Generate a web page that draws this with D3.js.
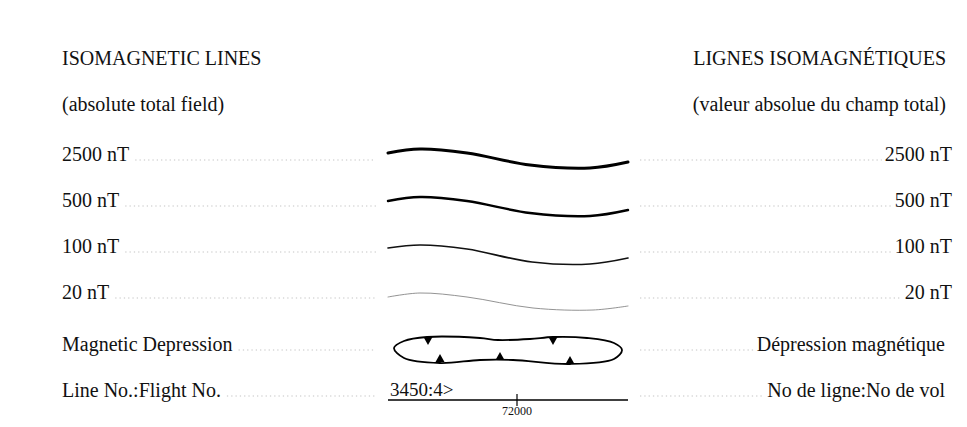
<!DOCTYPE html>
<html>
<head>
<meta charset="utf-8">
<script src="https://cdn.jsdelivr.net/npm/d3@7"></script>
<style>
  body { margin: 0; background: #fff; }
  text { font-family: "Liberation Serif", "Times New Roman", serif; fill: #111; }
</style>
</head>
<body>
<div id="chart"></div>
<script>
// Legend rows (left label, right label)
const leftLabels = ["2500 nT", "500 nT", "100 nT", "20 nT", "Magnetic Depression", "Line No.:Flight No."];
const rightLabels = ["2500 nT", "500 nT", "100 nT", "20 nT", "Dépression magnétique", "No de ligne:No de vol"];
const rightEdges = [952, 952, 952, 952, 945, 945];
const rowBaselines = [161, 207, 253, 299, 351, 397];

// Isoline samples: [x along symbol, offset from baseline]
const line2500 = [[0, -8], [32, -12], [79, -8], [142, 4], [202, 7], [240, 1]];
const line500 = [[0, -6], [32, -10], [79, -6], [142, 6], [202, 9], [240, 3]];
const line100 = [[0, -5], [32, -8], [79, -4], [144, 9], [202, 11], [240, 5]];
const line20 = [[0, -2], [32, -6], [79, -2], [145, 9], [205, 11], [240, 7]];
const isolines = [line2500, line500, line100, line20];
const isoWidths = [3, 2.4, 1.7, 0.8];
const isoColors = ["#000", "#000", "#111", "#777"];

// Magnetic depression closed contour and hachure marks
const depression = [[6, -3], [16, -10], [39, -14], [92, -13], [110, -11], [142, -12], [165, -14], [199, -13],
                    [226, -8], [234, -1], [226, 8], [182, 13], [125, 9], [92, 9], [52, 12], [16, 7]];
const hachures = [[40, -13, "down"], [165, -13, "down"], [52, 10, "up"], [112, 8, "up"], [182, 12, "up"]];

const flightLabel = "3450:4>";
const fiducial = [129, "72000"];

const width = 967, height = 427;
const svg = d3.select("#chart").append("svg")
    .attr("width", width)
    .attr("height", height);

const x = d3.scaleLinear().domain([0, 240]).range([388, 628]);
const rowY = (i, off) => rowBaselines[i] + off;
const fs = 20;

// Headings
svg.append("text").attr("x", 62).attr("y", 65).attr("font-size", fs).text("ISOMAGNETIC LINES");
svg.append("text").attr("x", 62).attr("y", 111).attr("font-size", fs).text("(absolute total field)");
svg.append("text").attr("x", 946).attr("y", 65).attr("font-size", fs).attr("text-anchor", "end").text("LIGNES ISOMAGNÉTIQUES");
svg.append("text").attr("x", 946).attr("y", 111).attr("font-size", fs).attr("text-anchor", "end").text("(valeur absolue du champ total)");

// Row labels with dotted leaders
leftLabels.forEach((lab, i) => {
    const t = svg.append("text").attr("x", 62).attr("y", rowBaselines[i]).attr("font-size", fs).text(lab);
    const w = t.node().getComputedTextLength();
    svg.append("line")
        .attr("x1", 62 + w + 6).attr("x2", 376)
        .attr("y1", rowBaselines[i] - 1).attr("y2", rowBaselines[i] - 1)
        .attr("stroke", "#c4c4c4").attr("stroke-width", 1.2)
        .attr("stroke-dasharray", "1.3,3");
});
rightLabels.forEach((lab, i) => {
    const t = svg.append("text").attr("x", rightEdges[i]).attr("y", rowBaselines[i]).attr("font-size", fs)
        .attr("text-anchor", "end").text(lab);
    const w = t.node().getComputedTextLength();
    svg.append("line")
        .attr("x1", 640).attr("x2", rightEdges[i] - w - 3)
        .attr("y1", rowBaselines[i] - 1).attr("y2", rowBaselines[i] - 1)
        .attr("stroke", "#c4c4c4").attr("stroke-width", 1.2)
        .attr("stroke-dasharray", "1.3,3");
});

// Isolines
isolines.forEach((pts, i) => {
    const gen = d3.line().x(d => x(d[0])).y(d => rowY(i, d[1])).curve(d3.curveCatmullRom);
    svg.append("path").attr("d", gen(pts))
        .attr("fill", "none").attr("stroke", isoColors[i])
        .attr("stroke-width", isoWidths[i]).attr("stroke-linecap", "round");
});

// Depression contour
const loop = d3.line().x(d => x(d[0])).y(d => rowY(4, d[1])).curve(d3.curveCatmullRomClosed);
svg.append("path").attr("d", loop(depression))
    .attr("fill", "none").attr("stroke", "#000").attr("stroke-width", 1.8);
svg.selectAll(".hach").data(hachures).enter().append("path")
    .attr("class", "hach")
    .attr("d", d => {
        const cx = x(d[0]), cy = rowY(4, d[1]);
        return d[2] === "down"
            ? `M${cx - 4.5},${cy - 1}L${cx + 4.5},${cy - 1}L${cx},${cy + 7}Z`
            : `M${cx - 4.5},${cy + 1}L${cx + 4.5},${cy + 1}L${cx},${cy - 7}Z`;
    })
    .attr("fill", "#000");

// Flight line
const ly = rowY(5, 3);
svg.append("line").attr("x1", x(0)).attr("x2", x(240)).attr("y1", ly).attr("y2", ly)
    .attr("stroke", "#000").attr("stroke-width", 1.3);
svg.append("text").attr("x", x(2)).attr("y", ly - 4).attr("font-size", 19).text(flightLabel);
svg.append("line").attr("x1", x(fiducial[0])).attr("x2", x(fiducial[0]))
    .attr("y1", ly - 6).attr("y2", ly + 6).attr("stroke", "#000").attr("stroke-width", 1.2);
svg.append("text").attr("x", x(fiducial[0])).attr("y", ly + 15).attr("font-size", 12)
    .attr("text-anchor", "middle").text(fiducial[1]);
</script>
</body>
</html>
